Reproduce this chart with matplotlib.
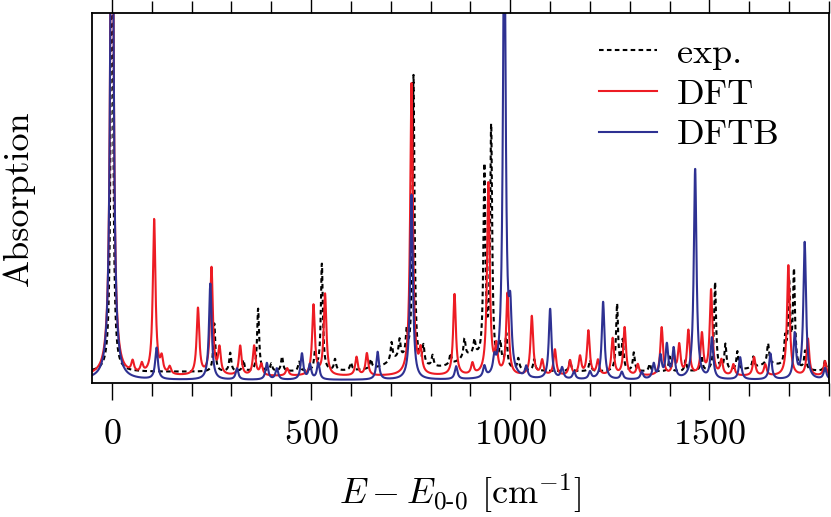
"""
Vibronic absorption spectrum: experiment vs. DFT vs. DFTB.
Line lists (position, peak height) read off the reference figure,
broadened with Lorentzians.
"""

import numpy as np
import matplotlib
matplotlib.use("Agg")
import matplotlib.pyplot as plt
from matplotlib.ticker import MultipleLocator

plt.rcParams["font.family"] = ["cmr10", "DejaVu Serif"]
plt.rcParams["mathtext.fontset"] = "cm"
plt.rcParams["axes.formatter.use_mathtext"] = True

# ── Line lists (cm^-1, height) ───────────────────────────────────────────────
exp_pos = [0, 257, 297, 330, 367, 400, 427, 470, 510, 527, 560, 600, 650,
           702, 722, 740, 757, 782, 805, 850, 885, 910, 935, 952, 975, 990,
           1020, 1060, 1150, 1200, 1268, 1282, 1310, 1350, 1400, 1440, 1480,
           1514, 1540, 1570, 1610, 1647, 1690, 1700, 1712, 1740, 1790]
exp_h = [1.6, 0.13, 0.05, 0.03, 0.17, 0.02, 0.04, 0.025, 0.05, 0.29, 0.03,
         0.02, 0.025, 0.05, 0.05, 0.07, 0.78, 0.05, 0.03, 0.03, 0.05, 0.04,
         0.52, 0.64, 0.06, 0.09, 0.03, 0.03, 0.03, 0.03, 0.18, 0.08, 0.05,
         0.02, 0.04, 0.03, 0.04, 0.24, 0.07, 0.05, 0.03, 0.055, 0.07, 0.22,
         0.26, 0.05, 0.03]
exp_bands_pos = [720, 900, 1650]   # broad underlying humps
exp_bands_h = [0.03, 0.04, 0.02]

dft_pos = [0, 52, 75, 106, 125, 145, 216, 250, 270, 322, 357, 375, 440,
           506, 535, 614, 640, 752, 775, 860, 905, 945, 965, 993, 1054,
           1080, 1112, 1150, 1175, 1196, 1220, 1257, 1287, 1320, 1380, 1410,
           1424, 1447, 1481, 1504, 1530, 1560, 1612, 1640, 1698, 1747, 1790]
dft_h = [2.0, 0.03, 0.025, 0.42, 0.04, 0.02, 0.18, 0.29, 0.07, 0.08, 0.08,
         0.03, 0.02, 0.19, 0.22, 0.05, 0.06, 0.79, 0.06, 0.22, 0.03, 0.52,
         0.07, 0.22, 0.16, 0.04, 0.07, 0.04, 0.05, 0.12, 0.04, 0.10, 0.13,
         0.03, 0.13, 0.05, 0.08, 0.12, 0.11, 0.23, 0.04, 0.03, 0.05, 0.03,
         0.30, 0.10, 0.04]

dftb_pos = [0, 112, 247, 314, 389, 414, 477, 497, 518, 667, 752, 864, 935,
            960, 985, 1000, 1040, 1100, 1130, 1160, 1200, 1233, 1280, 1330,
            1360, 1377, 1393, 1410, 1464, 1506, 1577, 1653, 1714, 1739, 1790]
dftb_h = [2.0, 0.085, 0.26, 0.03, 0.045, 0.03, 0.07, 0.04, 0.045, 0.075,
          0.50, 0.035, 0.03, 0.04, 1.3, 0.15, 0.03, 0.19, 0.03, 0.02, 0.02,
          0.21, 0.02, 0.02, 0.04, 0.06, 0.09, 0.08, 0.57, 0.11, 0.06, 0.07,
          0.12, 0.37, 0.03]

E_MIN, E_MAX = -50, 1800


def lorentz(x, pos, heights, gamma):
    y = np.zeros_like(x)
    for p, h in zip(pos, heights):
        y += h * gamma**2 / ((x - p) ** 2 + gamma**2)
    return y


def main():
    x = np.linspace(E_MIN, E_MAX, 4001)

    y_exp = 0.03 + lorentz(x, exp_pos, exp_h, 3.0) \
        + lorentz(x, exp_bands_pos, exp_bands_h, 40.0)
    y_dft = 0.018 + lorentz(x, dft_pos, dft_h, 4.0)
    y_dftb = 0.008 + lorentz(x, dftb_pos, dftb_h, 4.0)

    fig = plt.figure(figsize=(8.31, 5.17), dpi=100)
    ax = fig.add_axes([92 / 831, 1 - 383 / 517, 737 / 831, 370 / 517])

    ax.plot(x, y_exp, color="black", lw=1.5, ls=(0, (2.2, 1.6)), label="exp.")
    ax.plot(x, y_dft, color="#ed1c24", lw=1.5, label="DFT")
    ax.plot(x, y_dftb, color="#2e3192", lw=1.5, label="DFTB")

    ax.set_xlim(E_MIN, E_MAX)
    ax.set_ylim(0, 1.0)
    ax.set_yticks([])
    ax.xaxis.set_major_locator(MultipleLocator(500))
    ax.xaxis.set_minor_locator(MultipleLocator(100))
    ax.tick_params(axis="x", which="both", direction="out", top=True,
                   labeltop=False, width=1.0, labelsize=26, pad=14)
    ax.tick_params(axis="x", which="major", length=12)
    ax.tick_params(axis="x", which="minor", length=9)
    for s in ax.spines.values():
        s.set_linewidth(1.3)

    ax.set_xlabel(r"$E - E_{0\text{-}0}$ [cm$^{-1}$]",
                  fontsize=26, labelpad=15)
    ax.set_ylabel("Absorption", fontsize=26, labelpad=41)

    ax.legend(loc="upper right", frameon=False, fontsize=26,
              handlelength=1.6, handletextpad=0.55, labelspacing=0.23,
              borderaxespad=0.5, bbox_to_anchor=(0.977, 1.021))

    fig.savefig("out.png", dpi=100)
    plt.close(fig)


if __name__ == "__main__":
    main()
